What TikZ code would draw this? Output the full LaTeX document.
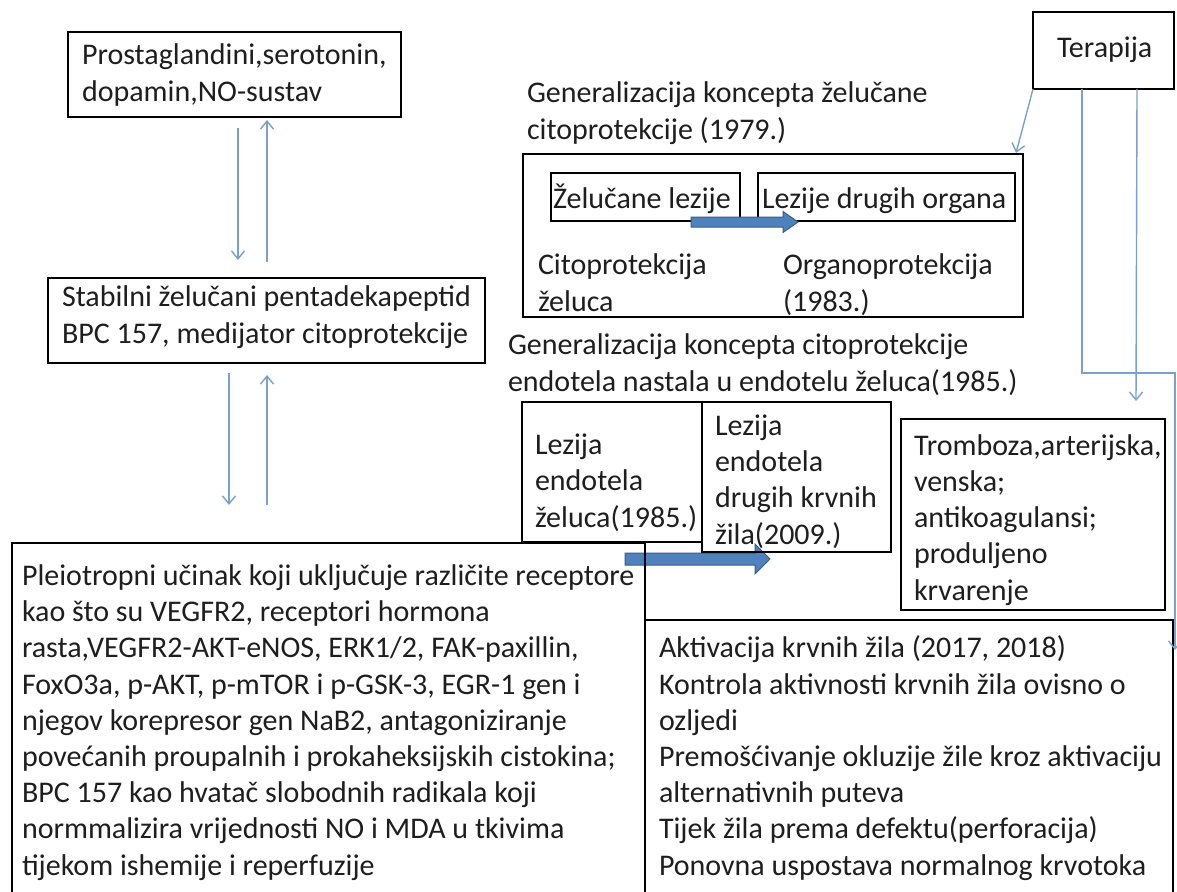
\documentclass[tikz,border=0pt]{standalone}
\usepackage{fontspec}
\setmainfont{Carlito}
\usetikzlibrary{arrows.meta,fit}
\definecolor{thinblue}{RGB}{120,162,204}
\definecolor{bfill}{RGB}{79,129,189}
\definecolor{bdraw}{RGB}{56,93,138}
\definecolor{ink}{RGB}{30,30,30}
\begin{document}
\begin{tikzpicture}[x=1pt,y=-1pt,
  box/.style={draw=black, line width=2.2pt, inner sep=0pt, outer sep=0pt},
  txt/.style={anchor=base west, inner sep=0pt, outer sep=0pt, align=left, text=ink,
    font=\fontsize{30}{36.2}\selectfont},
  thinarrow/.style={draw=thinblue, line width=1.4pt, -{Straight Barb[length=8pt,width=13pt,line width=1.4pt]}},
  blockarrow/.style={fill=bfill, draw=bdraw, line width=1pt, line join=miter}
]
\useasboundingbox (0,0) rectangle (1177,891);
\clip (0,0) rectangle (1177,891);
\fill[white] (0,0) rectangle (1177,891);

% block arrow under the big boxes
\draw[blockarrow] (625,553) -- (755,553) -- (755,544) -- (770,559) -- (755,574) -- (755,565) -- (625,565) -- cycle;

% boxes
\node[box, fit={(68,32) (401,117)}] (A) {};
\node[box, fit={(48,278) (485,363)}] (B) {};
\node[box, fit={(12,543) (645,900)}] (C) {};
\node[box, fit={(645,620) (1173,900)}] (D) {};
\node[box, fit={(1033,12) (1174,89)}] (Ter) {};
\node[box, fit={(523,154) (1023,317)}] (E) {};
\node[box, fit={(551,173) (740,221)}] (E1) {};
\node[box, fit={(758,173) (1015,221)}] (E2) {};
\node[box, fit={(522,402) (702,542)}] (L1) {};
\node[box, fit={(702,402) (891,552)}] (L2) {};
\node[box, fit={(901,419) (1165,610)}] (T) {};

% block arrow between the two lesion boxes
\draw[blockarrow] (691,217) -- (783,217) -- (783,211.5) -- (798,222) -- (783,232.5) -- (783,227) -- (691,227) -- cycle;

% texts (anchored at the baseline of their last line)
\node[txt] (tA) at (82,101) {Prostaglandini,serotonin,\\dopamin,NO-sustav};
\node[txt] (tB) at (62,343) {Stabilni želučani pentadekapeptid\\BPC 157, medijator citoprotekcije};
\node[txt] (tC) at (22,875) {Pleiotropni učinak koji uključuje različite receptore\\
kao što su VEGFR2, receptori hormona\\
rasta,VEGFR2-AKT-eNOS, ERK1/2, FAK-paxillin,\\
FoxO3a, p-AKT, p-mTOR i p-GSK-3, EGR-1 gen i\\
njegov korepresor gen NaB2, antagoniziranje\\
povećanih proupalnih i prokaheksijskih cistokina;\\
BPC 157 kao hvatač slobodnih radikala koji\\
normmalizira vrijednosti NO i MDA u tkivima\\
tijekom ishemije i reperfuzije};
\node[txt] (tTitle1) at (527,139) {Generalizacija koncepta želučane\\citoprotekcije (1979.)};
\node[txt] (tE1) at (553,208) {Želučane lezije};
\node[txt] (tE2) at (762,208) {Lezije drugih organa};
\node[txt] (tCito) at (538,311) {Citoprotekcija\\želuca};
\node[txt] (tOrg) at (783,311) {Organoprotekcija\\(1983.)};
\node[txt] (tTer) at (1057,58) {Terapija};
\node[txt] (tTitle2) at (508,391) {Generalizacija koncepta citoprotekcije\\endotela nastala u endotelu želuca(1985.)};
\node[txt] (tL1) at (535,527) {Lezija\\endotela\\želuca(1985.)};
\node[txt] (tL2) at (715,544) {Lezija\\endotela\\drugih krvnih\\žila(2009.)};
\node[txt] (tT) at (914,600) {Tromboza,arterijska,\\venska;\\antikoagulansi;\\produljeno\\krvarenje};
\node[txt] (tD) at (659,875) {Aktivacija krvnih žila (2017, 2018)\\
Kontrola aktivnosti krvnih žila ovisno o\\
ozljedi\\
Premošćivanje okluzije žile kroz aktivaciju\\
alternativnih puteva\\
Tijek žila prema defektu(perforacija)\\
Ponovna uspostava normalnog krvotoka};

% thin connectors
\draw[thinarrow] ([xshift=170pt,yshift=-11pt]A.south west) -- ([xshift=190pt,yshift=18pt]B.north west);
\draw[thinarrow] ([xshift=219pt,yshift=16pt]B.north west) -- ([xshift=199pt,yshift=-3pt]A.south west);
\draw[thinarrow] ([xshift=181pt,yshift=-10pt]B.south west) -- ([xshift=217pt,yshift=38pt]C.north west);
\draw[thinarrow] ([xshift=255pt,yshift=38pt]C.north west) -- ([xshift=219pt,yshift=-12pt]B.south west);
\draw[thinarrow] (Ter.south west) -- ([xshift=-7pt,yshift=1pt]E.north east);
\draw[thinarrow] ([xshift=104pt]Ter.south west) -- ([xshift=235pt,yshift=18pt]T.north west);
\coordinate (k1) at (1082,373);
\coordinate (k2) at (1175,373);
\draw[thinarrow] ([xshift=49pt]Ter.south west) -- (k1) -- (k2) -- ([xshift=2pt,yshift=-30pt]D.north east);
\end{tikzpicture}
\end{document}
